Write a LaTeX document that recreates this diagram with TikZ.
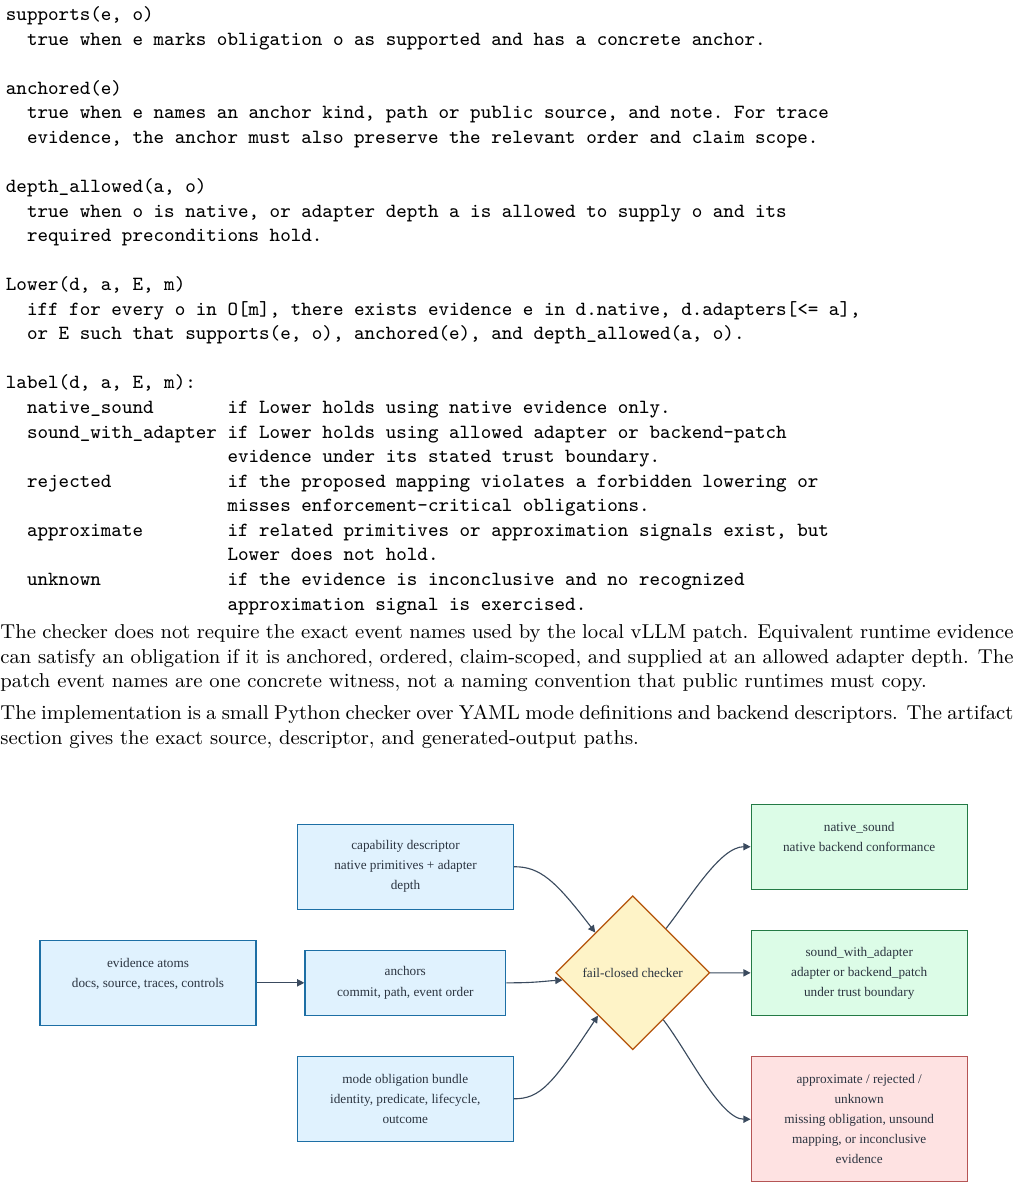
\documentclass[tikz,border=0pt]{standalone}
\usepackage{fontspec}
\newfontfamily\dgmfont{Liberation Serif}
\usetikzlibrary{arrows.meta,shapes.geometric}
\definecolor{boxblue}{HTML}{E0F2FE}
\definecolor{lineblue}{HTML}{1D6FA5}
\definecolor{boxgreen}{HTML}{DCFCE7}
\definecolor{linegreen}{HTML}{237A45}
\definecolor{boxred}{HTML}{FEE2E2}
\definecolor{linered}{HTML}{B55555}
\definecolor{boxamber}{HTML}{FEF3C7}
\definecolor{lineamber}{HTML}{B45309}
\definecolor{inkgray}{HTML}{2B3440}
\definecolor{edgegray}{HTML}{3A4A5E}
\newcommand{\indt}{\hspace*{1.05em}}
\newcommand{\lab}[1]{\indt\makebox[9.975em][l]{#1}}
\newcommand{\cont}{\indt\hspace*{9.975em}}
\newcommand{\monosp}{\frenchspacing\spaceskip=0.525em\xspaceskip=0.525em\relax}
\tikzset{
  mono/.style={anchor=base west, inner sep=0pt, text width=440pt, align=left,
               font=\fontsize{9}{11}\selectfont\ttfamily},
  prose/.style={anchor=base west, inner sep=0pt, text width=453.6pt, align=justify,
                font=\fontsize{9}{11}\selectfont},
  blk/.style={draw=lineblue, fill=boxblue, line width=0.55pt, inner sep=0pt,
              minimum width=96.72pt, minimum height=38.06pt, align=center,
              text=inkgray, font=\dgmfont\fontsize{5.93}{8.96}\selectfont},
  okblk/.style={blk, draw=linegreen, fill=boxgreen},
  badblk/.style={blk, draw=linered, fill=boxred, minimum height=55.97pt},
  chkd/.style={diamond, aspect=1, draw=lineamber, fill=boxamber, line width=0.55pt,
               inner sep=0pt, minimum width=68.96pt, minimum height=68.96pt,
               text=inkgray, font=\dgmfont\fontsize{5.93}{8.96}\selectfont},
  flowarr/.style={-{Triangle[length=3.2pt, width=3.2pt]}, edgegray, line width=0.5pt},
}

\begin{document}
\begin{tikzpicture}[x=0.44778pt, y=-0.44778pt]
  \path[fill=white] (0,0) rectangle (1013,1188);
  \useasboundingbox (0,0) rectangle (1013,1188);

  % definitions
  \node[mono] (defs) at (5.5,20.5) {\monosp
    supports(e, o)\\
    \indt true when e marks obligation o as supported and has a concrete anchor.\\[11pt]
    anchored(e)\\
    \indt true when e names an anchor kind, path or public source, and note. For trace\\
    \indt evidence, the anchor must also preserve the relevant order and claim scope.\\[11pt]
    depth\_allowed(a, o)\\
    \indt true when o is native, or adapter depth a is allowed to supply o and its\\
    \indt required preconditions hold.\\[11pt]
    Lower(d, a, E, m)\\
    \indt iff for every o in O[m], there exists evidence e in d.native, d.adapters[<= a],\\
    \indt or E such that supports(e, o), anchored(e), and depth\_allowed(a, o).\\[11pt]
    label(d, a, E, m):\\
    \lab{native\_sound}if Lower holds using native evidence only.\\
    \lab{sound\_with\_adapter}if Lower holds using allowed adapter or backend-patch\\
    \cont evidence under its stated trust boundary.\\
    \lab{rejected}if the proposed mapping violates a forbidden lowering or\\
    \cont misses enforcement-critical obligations.\\
    \lab{approximate}if related primitives or approximation signals exist, but\\
    \cont Lower does not hold.\\
    \lab{unknown}if the evidence is inconclusive and no recognized\\
    \cont approximation signal is exercised.};

  \node[prose] (para1) at (0,638.5) {The checker does not require the exact event
    names used by the local vLLM patch. Equivalent runtime evidence\linebreak
    can satisfy an obligation if it is anchored, ordered, claim-scoped, and supplied
    at an allowed adapter depth. The\linebreak
    patch event names are one concrete witness, not a naming convention that public
    runtimes must copy.};
  \node[prose] (para2) at (0,719.5) {The implementation is a small Python checker over
    YAML mode definitions and backend descriptors. The artifact\linebreak
    section gives the exact source, descriptor, and generated-output paths.};

  % checker diagram
  \node[blk] (cap) at (405.5,866.7) {capability descriptor\\native primitives + adapter\\depth};
  \node[blk] (evid) at (148,982.8) {evidence atoms\\docs, source, traces, controls\\\mbox{}};
  \node[blk, minimum width=89.87pt, minimum height=29.11pt] (anc) at (405.3,982.8)
    {anchors\\commit, path, event order};
  \node[blk] (oblg) at (405.3,1098.8) {mode obligation bundle\\identity, predicate, lifecycle,\\outcome};
  \node[chkd] (chk) at (632.7,972.7) {fail-closed checker};
  \node[okblk] (nsnd) at (859.2,846.7) {native\_sound\\native backend conformance\\\mbox{}};
  \node[okblk] (swa) at (859.2,973) {sound\_with\_adapter\\adapter or backend\_patch\\under trust boundary};
  \node[badblk] (rej) at (859.2,1119.2) {approximate / rejected /\\unknown\\missing obligation, unsound\\mapping, or inconclusive\\evidence};

  \draw[flowarr] (evid) -- (anc);
  \draw[flowarr] (cap.east) .. controls (540,866.7) and (555,880) .. (chk.133);
  \draw[flowarr] (anc.east) .. controls (535,983) and (545,981) .. (chk.-174);
  \draw[flowarr] (oblg.east) .. controls (540,1098.8) and (552,1085) .. (chk.-129);
  \draw[flowarr] (chk.53) .. controls (690,898) and (720,846.7) .. (nsnd.west);
  \draw[flowarr] (chk) -- (swa);
  \draw[flowarr] (chk.-57) .. controls (687,1050) and (720,1119.2) .. (rej.west);
\end{tikzpicture}
\end{document}
